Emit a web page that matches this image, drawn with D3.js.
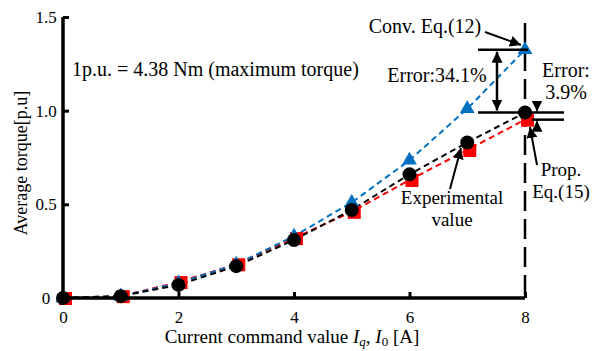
<!DOCTYPE html>
<html>
<head>
<meta charset="utf-8">
<script src="https://cdn.jsdelivr.net/npm/d3@7"></script>
<style>
  body { margin: 0; background: #fff; }
</style>
</head>
<body>
<div id="chart"></div>
<script>
// data
const currents = [0, 1, 2, 3, 4, 5, 6, 7, 8];
const experimental = [0, 0.01, 0.07, 0.17, 0.31, 0.47, 0.66, 0.83, 0.99];
const proposed = [0, 0.01, 0.085, 0.18, 0.32, 0.46, 0.63, 0.79, 0.952];
const conventional = [0, 0.01, 0.08, 0.18, 0.33, 0.51, 0.735, 1.01, 1.325];
const xTicks = [0, 2, 4, 6, 8];
const yTicks = [0, 0.5, 1.0, 1.5];
const yTickLabels = ["0", "0.5", "1.0", "1.5"];

const FONT = "'Liberation Serif', 'Times New Roman', 'DejaVu Serif', serif";
const width = 601, height = 351;
const x = d3.scaleLinear().domain([0, 8]).range([63, 525]);
const y = d3.scaleLinear().domain([0, 1.5]).range([298, 17]);

const svg = d3.select("#chart").append("svg")
    .attr("width", width).attr("height", height)
    .attr("font-family", FONT);

svg.append("defs").append("marker")
    .attr("id", "arr")
    .attr("viewBox", "0 0 10 10")
    .attr("refX", 10).attr("refY", 5)
    .attr("markerWidth", 11).attr("markerHeight", 11)
    .attr("markerUnits", "userSpaceOnUse")
    .attr("orient", "auto-start-reverse")
    .append("path").attr("d", "M0,0 L10,5 L0,10 z").attr("fill", "#000");

// vertical dashed line at 8 A
svg.append("line")
    .attr("x1", x(8)).attr("x2", x(8))
    .attr("y1", 23).attr("y2", y(0))
    .attr("stroke", "#000").attr("stroke-width", 2.5)
    .attr("stroke-dasharray", "20,8");

// series lines
const line = d3.line().x((d, i) => x(currents[i])).y(d => y(d));
const series = [
    { vals: proposed, color: "#ff0000" },
    { vals: conventional, color: "#0070c0" },
    { vals: experimental, color: "#000000" }
];
series.forEach(s => {
    svg.append("path").datum(s.vals)
        .attr("d", line).attr("fill", "none")
        .attr("stroke", s.color).attr("stroke-width", 2)
        .attr("stroke-dasharray", "6,4");
});

// markers
svg.selectAll(".sq").data(proposed).enter().append("rect")
    .attr("x", (d, i) => x(currents[i]) - 4).attr("y", d => y(d) - 6)
    .attr("width", 13).attr("height", 13).attr("fill", "#ff0000");
const tri = d3.symbol().type(d3.symbolTriangle).size(95);
svg.selectAll(".tri").data(conventional).enter().append("path")
    .attr("d", tri)
    .attr("transform", (d, i) => `translate(${x(currents[i])},${y(d)})`)
    .attr("fill", "#0070c0");
svg.selectAll(".dot").data(experimental).enter().append("circle")
    .attr("cx", (d, i) => x(currents[i])).attr("cy", d => y(d))
    .attr("r", 7).attr("fill", "#000");

// axes
const xAxis = d3.axisBottom(x).tickValues(xTicks).tickSize(-6)
    .tickFormat(d3.format("d"));
const gx = svg.append("g").attr("transform", `translate(0,${y(0)})`).call(xAxis);
const yAxis = d3.axisLeft(y).tickValues(yTicks).tickSize(-6)
    .tickFormat((d, i) => yTickLabels[i]);
const gy = svg.append("g").attr("transform", `translate(${x(0)},0)`).call(yAxis);
[gx, gy].forEach(g => {
    g.attr("font-family", FONT);
    g.select(".domain").attr("stroke-width", 3.5).attr("stroke", "#000");
    g.selectAll(".tick line").attr("stroke-width", 3).attr("stroke", "#000");
    g.selectAll(".tick text").attr("font-size", 17).attr("fill", "#000");
});
gx.select(".domain").attr("d", `M${x(0)},0H${x(8)}`);
gy.select(".domain").attr("d", `M0,${y(1.5)}V${y(0)}`);
gx.selectAll(".tick").filter(d => d === 0).select("line").remove();
gy.selectAll(".tick").filter(d => d === 0).select("line").remove();
gx.selectAll(".tick text").attr("y", 25).attr("dy", 0);
gy.selectAll(".tick text").attr("x", -17).attr("text-anchor", "middle");

// axis titles
svg.append("text")
    .attr("transform", `translate(27,163) rotate(-90)`)
    .attr("text-anchor", "middle").attr("font-size", 18)
    .text("Average torque[p.u]");
const xt = svg.append("text").attr("x", 292).attr("y", 343)
    .attr("text-anchor", "middle").attr("font-size", 19);
xt.append("tspan").text("Current command value ");
xt.append("tspan").attr("font-style", "italic").text("I");
xt.append("tspan").attr("font-style", "italic").attr("font-size", 13).attr("dy", 3).text("q");
xt.append("tspan").attr("dy", -3).text(", ");
xt.append("tspan").attr("font-style", "italic").text("I");
xt.append("tspan").attr("font-size", 13).attr("dy", 3).text("0");
xt.append("tspan").attr("dy", -3).text(" [A]");

// annotations
function txt(xp, yp, s, anchor, size) {
    svg.append("text").attr("x", xp).attr("y", yp)
        .attr("text-anchor", anchor || "start").attr("font-size", size || 20).text(s);
}
function seg(x1, y1, x2, y2, w, arrowEnd, arrowStart) {
    const l = svg.append("line")
        .attr("x1", x1).attr("y1", y1).attr("x2", x2).attr("y2", y2)
        .attr("stroke", "#000").attr("stroke-width", w || 2);
    if (arrowEnd) l.attr("marker-end", "url(#arr)");
    if (arrowStart) l.attr("marker-start", "url(#arr)");
}

txt(72, 76, "1p.u. = 4.38 Nm (maximum torque)");
txt(425, 33, "Conv. Eq.(12)", "middle");
seg(485, 32, 521, 45, 2, true);
txt(437, 82, "Error:34.1%", "middle");
txt(566, 77, "Error:", "middle");
txt(566, 99, "3.9%", "middle");
txt(561, 176, "Prop.", "middle", 19);
txt(561, 198, "Eq.(15)", "middle", 19);
seg(537, 165, 530, 127, 2, true);
txt(452, 204, "Experimental", "middle", 19);
txt(452, 226, "value", "middle", 19);
seg(450, 189, 461, 148, 2, true);

// error markers
const yConv = y(conventional[8]), yExp = y(experimental[8]), yProp = y(proposed[8]);
seg(478, yConv, 528, yConv, 2.5);
seg(478, yExp, 564, yExp, 2.5);
seg(532, yProp, 564, yProp, 2.5);
seg(497, yConv + 2, 497, yExp - 2, 2.5, true, true);
seg(537, yExp - 11, 537, yExp - 1, 1.5, true);
seg(537, yProp + 11, 537, yProp + 1, 1.5, true);
</script>
</body>
</html>
